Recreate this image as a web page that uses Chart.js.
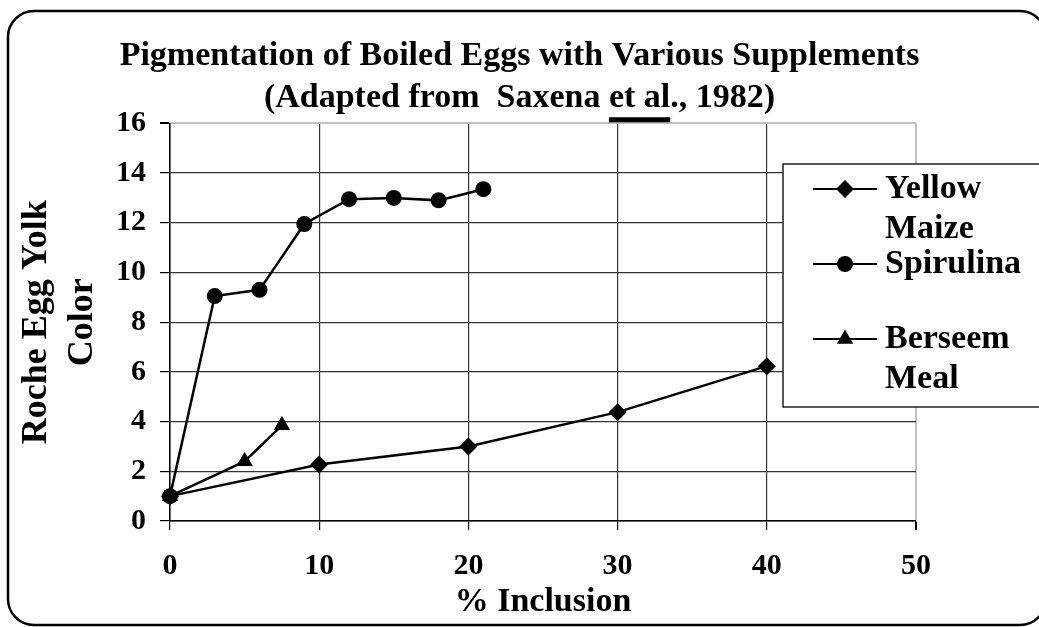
<!DOCTYPE html>
<html>
<head>
<meta charset="utf-8">
<title>Pigmentation of Boiled Eggs</title>
<script src="https://cdn.jsdelivr.net/npm/chart.js@4.4.1/dist/chart.umd.min.js"></script>
<style>
  html, body { margin: 0; padding: 0; background: #fff; }
  canvas { display: block; }
</style>
</head>
<body>
<canvas id="eggChart" width="1039" height="627"></canvas>
<script>
// values
const maizeX = [0, 10, 20, 30, 40];
const maizeY = [1, 2.27, 3.0, 4.38, 6.23];
const spirulinaX = [0, 3, 6, 9, 12, 15, 18, 21];
const spirulinaY = [1, 9.05, 9.3, 11.95, 12.95, 13.0, 12.9, 13.35];
const berseemX = [0, 5, 7.5];
const berseemY = [1, 2.4, 3.85];
const seriesNames = ["Yellow Maize", "Spirulina", "Berseem Meal"];
const titleLines = ["Pigmentation of Boiled Eggs with Various Supplements", "(Adapted from  Saxena et al., 1982)"];
const yTitleLines = ["Roche Egg Yolk", "Color"];
const xTitle = "% Inclusion";

const FONT = "'Liberation Serif', 'Times New Roman', serif";
const TITLE_SIZE = 34;
const TITLE_LH = 1.24;

function toPoints(xs, ys) {
  return xs.map((x, i) => ({ x: x, y: ys[i] }));
}

function series(label, points, style, radius) {
  return {
    label: label,
    data: points,
    borderColor: "#000",
    backgroundColor: "#000",
    borderWidth: 2.5,
    pointStyle: style,
    pointRadius: radius,
    pointBorderWidth: 0,
    pointBackgroundColor: "#000",
    tension: 0,
    clip: false,
  };
}

// white page + rounded outer frame
const framePlugin = {
  id: "frame",
  beforeDraw(chart) {
    const ctx = chart.ctx;
    ctx.save();
    ctx.fillStyle = "#fff";
    ctx.fillRect(0, 0, chart.width, chart.height);
    ctx.restore();
  },
  afterDraw(chart) {
    const ctx = chart.ctx;
    const l = 8, t = 11, r = 1046, b = 625, rad = 26;
    ctx.save();
    ctx.beginPath();
    ctx.moveTo(l + rad, t);
    ctx.arcTo(r, t, r, b, rad);
    ctx.arcTo(r, b, l, b, rad);
    ctx.arcTo(l, b, l, t, rad);
    ctx.arcTo(l, t, r, t, rad);
    ctx.closePath();
    ctx.lineWidth = 2.5;
    ctx.strokeStyle = "#000";
    ctx.stroke();
    ctx.restore();
  },
};

// boxed legend sitting over the right of the plot
const boxLegend = {
  id: "boxLegend",
  afterDraw(chart) {
    const ctx = chart.ctx;
    const box = { left: 783, top: 164, right: 1050, bottom: 407 };
    ctx.save();
    ctx.fillStyle = "#fff";
    ctx.fillRect(box.left, box.top, box.right - box.left, box.bottom - box.top);
    ctx.strokeStyle = "#222";
    ctx.lineWidth = 1.5;
    ctx.strokeRect(box.left, box.top, box.right - box.left, box.bottom - box.top);

    ctx.font = "bold 34px " + FONT;
    ctx.textBaseline = "middle";
    ctx.textAlign = "left";
    chart.data.datasets.forEach((ds, i) => {
      const y = box.top + 25 + i * 75;
      ctx.beginPath();
      ctx.moveTo(813, y);
      ctx.lineTo(877, y);
      ctx.lineWidth = 2;
      ctx.strokeStyle = "#000";
      ctx.stroke();
      ctx.fillStyle = "#000";
      Chart.helpers.drawPoint(ctx, { pointStyle: ds.pointStyle, radius: ds.pointRadius, borderWidth: 0, rotation: 0 }, 845, y);
      ds.label.split(" ").forEach((word, k) => {
        ctx.fillText(word, 885, y + k * 40);
      });
    });
    ctx.restore();
  },
};

// thick underline under "et al" in the second title line
const underlinePlugin = {
  id: "underline",
  afterDraw(chart) {
    const tb = chart.titleBlock;
    if (!tb) return;
    const ctx = chart.ctx;
    const line = titleLines[1];
    ctx.save();
    ctx.font = "bold " + TITLE_SIZE + "px " + FONT;
    const full = ctx.measureText(line).width;
    const cx = (tb.left + tb.right) / 2;
    const before = ctx.measureText(line.slice(0, line.indexOf("et al"))).width;
    const w = ctx.measureText("et al").width;
    const lh = TITLE_SIZE * TITLE_LH;
    const midY = tb.top + 25 + lh * 1.5;
    ctx.fillStyle = "#000";
    ctx.fillRect(cx - full / 2 + before, midY + 19, w, 5);
    ctx.restore();
  },
};

new Chart(document.getElementById("eggChart"), {
  type: "line",
  data: {
    datasets: [
      series(seriesNames[0], toPoints(maizeX, maizeY), "rectRot", 9),
      series(seriesNames[1], toPoints(spirulinaX, spirulinaY), "circle", 8),
      series(seriesNames[2], toPoints(berseemX, berseemY), "triangle", 9.5),
    ],
  },
  options: {
    responsive: false,
    animation: false,
    layout: { padding: { top: 10, left: 0, right: 0, bottom: 0 } },
    plugins: {
      legend: { display: false },
      tooltip: { enabled: false },
      title: {
        display: true,
        text: titleLines,
        color: "#000",
        font: { family: FONT, size: TITLE_SIZE, weight: "bold", lineHeight: TITLE_LH },
        padding: { top: 25, bottom: 4 },
      },
    },
    scales: {
      x: {
        type: "linear",
        min: 0,
        max: 50,
        ticks: {
          stepSize: 10,
          color: "#000",
          padding: 18,
          font: { family: FONT, size: 30, weight: "bold" },
        },
        grid: {
          color: (c) => (c.tick && c.tick.value === 50 ? "#c0c0c0" : "#333"),
          lineWidth: (c) => (c.tick && c.tick.value === 50 ? 2 : 1.2),
          tickColor: "#000",
          tickLength: 9,
        },
        border: { color: "#000", width: 1.5 },
        title: {
          display: true,
          text: xTitle,
          color: "#000",
          font: { family: FONT, size: 34, weight: "bold", lineHeight: 1.2 },
          padding: { top: 0, bottom: 4 },
        },
        afterFit(scale) {
          scale.height = 106;
        },
      },
      y: {
        min: 0,
        max: 16,
        ticks: {
          stepSize: 2,
          color: "#000",
          padding: 14,
          font: { family: FONT, size: 30, weight: "bold" },
        },
        grid: {
          color: (c) => (c.tick && c.tick.value === 16 ? "#c0c0c0" : "#333"),
          lineWidth: (c) => (c.tick && c.tick.value === 16 ? 2 : 1.2),
          tickColor: "#000",
          tickLength: 10,
        },
        border: { color: "#000", width: 1.5 },
        title: {
          display: true,
          text: yTitleLines,
          color: "#000",
          font: { family: FONT, size: 36, weight: "bold", lineHeight: 1.28 },
          padding: { top: 14, bottom: 0 },
        },
        afterFit(scale) {
          scale.width = 170;
        },
      },
      // empty right-hand axis, only keeps room for the legend box
      side: {
        position: "right",
        display: true,
        grid: { display: false },
        ticks: { display: false },
        border: { display: false },
        afterFit(scale) {
          scale.width = 123;
        },
      },
    },
  },
  plugins: [framePlugin, boxLegend, underlinePlugin],
});
</script>
</body>
</html>
